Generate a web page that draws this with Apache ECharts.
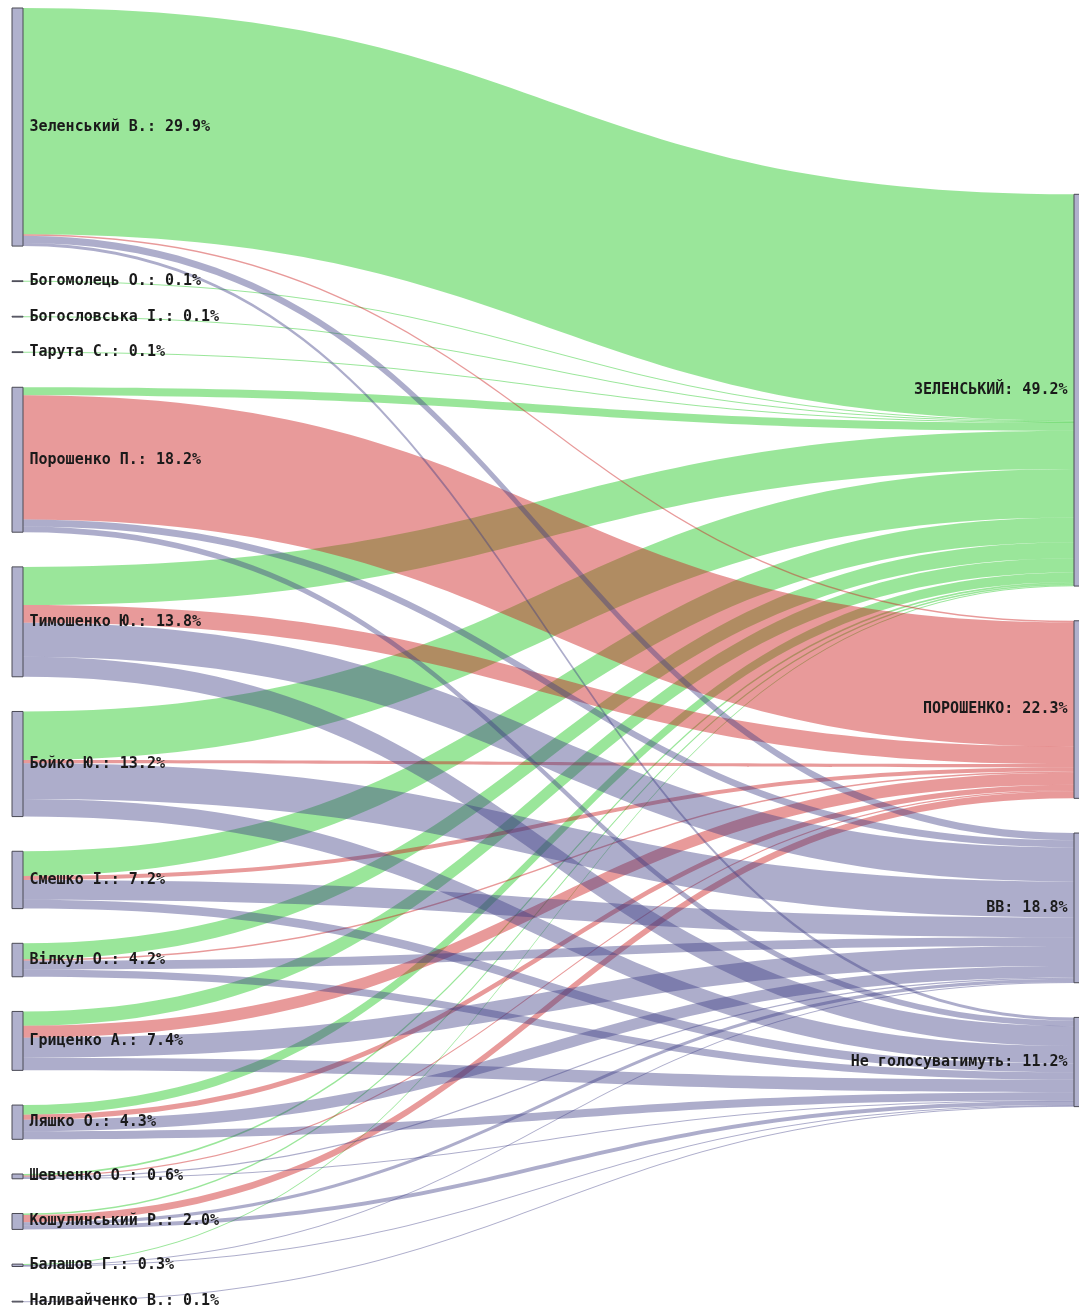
<!DOCTYPE html>
<html><head><meta charset="utf-8">
<script src="https://cdn.jsdelivr.net/npm/echarts@6/dist/echarts.min.js"></script>
<style>html,body{margin:0;padding:0;background:#fff}#c{width:1079px;height:1314px}</style>
</head><body><div id="c"></div>
<script>
// First-round candidates (left column) and their shares, %
const sourceNames = ['Зеленський В.', 'Богомолець О.', 'Богословська І.', 'Тарута С.', 'Порошенко П.',
  'Тимошенко Ю.', 'Бойко Ю.', 'Смешко І.', 'Вілкул О.', 'Гриценко А.', 'Ляшко О.', 'Шевченко О.',
  'Кошулинський Р.', 'Балашов Г.', 'Наливайченко В.'];
const sourceShares = [29.9, 0.1, 0.1, 0.1, 18.2, 13.8, 13.2, 7.2, 4.2, 7.4, 4.3, 0.6, 2.0, 0.3, 0.1];
// Second-round choices (right column) and their shares, %
const targetNames = ['ЗЕЛЕНСЬКИЙ', 'ПОРОШЕНКО', 'ВВ', 'Не голосуватимуть'];
const targetShares = [49.2, 22.3, 18.8, 11.2];
// Flows from each first-round candidate (same order as sourceNames), %
const toZelensky   = [28.4, 0.1, 0.1, 0.1, 1.0, 4.8, 6.1, 3.1, 2.0, 1.8, 1.2, 0.2, 0.2, 0.1, 0];
const toPoroshenko = [0.2, 0, 0, 0, 15.6, 2.2, 0.4, 0.5, 0.2, 1.5, 0.65, 0.15, 0.9, 0, 0];
const toVV         = [0.9, 0, 0, 0, 0.9, 4.3, 4.5, 2.5, 1.1, 2.5, 1.45, 0.15, 0.4, 0.1, 0];
const toAbstain    = [0.4, 0, 0, 0, 0.7, 2.5, 2.2, 1.1, 0.9, 1.6, 1.0, 0.1, 0.5, 0.1, 0.1];
const flowsByTarget = [toZelensky, toPoroshenko, toVV, toAbstain];

// styles
const linkColors = ['rgb(30,200,30)', 'rgb(205,30,30)', 'rgb(60,60,130)', 'rgb(60,60,130)'];
const linkOpacity = [0.45, 0.45, 0.42, 0.42];
const FONT = 'DejaVu Sans Mono';

function buildNodes(rightLocalY) {
  const nodes = [];
  sourceNames.forEach((n, i) => nodes.push({
    name: n, value: sourceShares[i], depth: 0,
    label: { position: 'right', distance: 6 }
  }));
  targetNames.forEach((n, i) => {
    const item = { name: n, value: targetShares[i], depth: 1, label: { position: 'left', distance: 6 } };
    if (rightLocalY && rightLocalY[n] != null) item.localY = rightLocalY[n];
    nodes.push(item);
  });
  return nodes;
}
const links = [];
flowsByTarget.forEach((arr, t) => {
  arr.forEach((v, s) => {
    if (v > 0) links.push({
      source: sourceNames[s], target: targetNames[t], value: v,
      lineStyle: { color: linkColors[t], opacity: linkOpacity[t] }
    });
  });
});

function makeOption(nodes, iterations) {
  return {
    animation: false,
    backgroundColor: '#fff',
    series: [{
      type: 'sankey',
      left: 12, top: 8, width: 1073, height: 1294,
      nodeWidth: 11,
      nodeGap: 34.7,
      nodeAlign: 'justify',
      layoutIterations: iterations,
      draggable: false,
      emphasis: { disabled: true },
      data: nodes,
      links: links,
      itemStyle: { color: '#b0b1cd', borderColor: '#4a4a55', borderWidth: 1 },
      lineStyle: { curveness: 0.5 },
      label: {
        show: true, fontFamily: FONT, fontSize: 15, fontWeight: 'bold', color: '#1a1a1a',
        formatter: p => p.name + ': ' + Number(p.value).toFixed(1) + '%'
      }
    }]
  };
}

const chart = echarts.init(document.getElementById('c'));
// Pass 1: let the library relax the layout to place the right column.
chart.setOption(makeOption(buildNodes(null), 32));
// Pass 2: keep the left column in data order, reuse the library's right-column placement.
try {
  const sm = chart.getModel().getSeriesByIndex(0);
  const graph = sm.getGraph();
  const data = sm.getData();
  const h = sm.layoutInfo.height;
  const rightY = {};
  graph.nodes.forEach(node => {
    const name = data.getName(node.dataIndex);
    if (targetNames.indexOf(name) >= 0) rightY[name] = node.getLayout().y / h;
  });
  chart.setOption(makeOption(buildNodes(rightY), 0), true);
} catch (e) {
  chart.setOption(makeOption(buildNodes(null), 0), true);
}
</script></body></html>
